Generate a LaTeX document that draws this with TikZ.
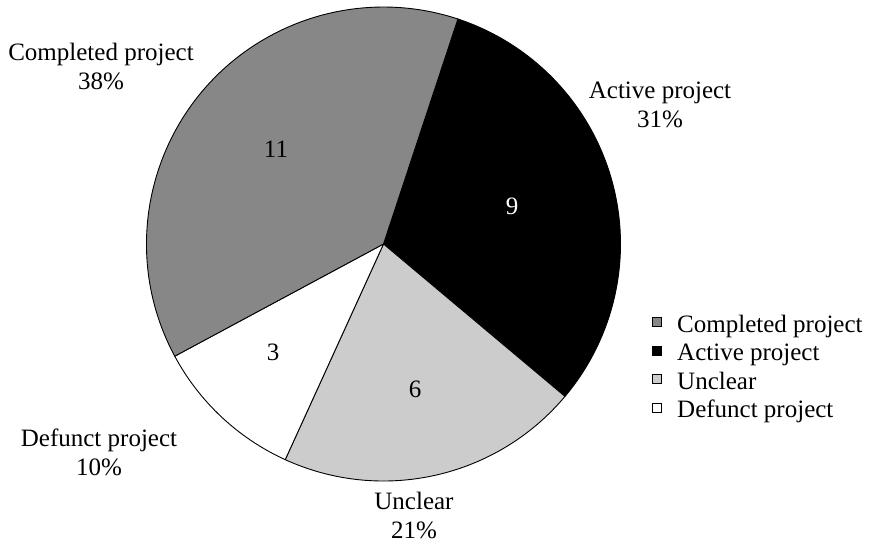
\documentclass[tikz,border=0pt]{standalone}
\usepackage{fontspec}
\setmainfont{Liberation Serif}
\usepackage{tikz}
\usetikzlibrary{positioning,calc}
\definecolor{midgray}{HTML}{878787}
\definecolor{palegray}{HTML}{CCCCCC}
\tikzstyle{slice} = [draw=black, line width=0.9pt, line join=round]
\tikzstyle{count} = [font=\fontsize{25}{29}\selectfont, inner sep=0pt]
\tikzstyle{outlabel} = [font=\fontsize{25}{29}\selectfont, inner sep=0pt, anchor=base]
\tikzstyle{legbox} = [rectangle, draw=black, line width=0.6pt, minimum size=9pt, inner sep=0pt]
\tikzstyle{legtext} = [font=\fontsize{25}{29}\selectfont, inner sep=0pt, anchor=base west]

\begin{document}
\begin{tikzpicture}[x=1pt,y=1pt]
	\useasboundingbox (0,0) rectangle (873,-547);
	\coordinate (c) at (383.5,-244);
	% slices, clockwise from the top
	\draw[slice, fill=black] (c) -- ++(71.7:237pt) arc[start angle=71.7, end angle=-40.02, radius=237pt] -- cycle;
	\draw[slice, fill=palegray] (c) -- ++(-40.02:237pt) arc[start angle=-40.02, end angle=-114.5, radius=237pt] -- cycle;
	\draw[slice, fill=white] (c) -- ++(-114.5:237pt) arc[start angle=-114.5, end angle=-151.74, radius=237pt] -- cycle;
	\draw[slice, fill=midgray] (c) -- ++(-151.74:237pt) arc[start angle=-151.74, end angle=-288.3, radius=237pt] -- cycle;
	% counts
	\node (n11) at (276,-149) [count] {11};
	\node (n9) at (512,-206) [count, text=white] {9};
	\node (n6) at (415,-389) [count] {6};
	\node (n3) at (273,-352) [count] {3};
	% labels round the pie
	\node (tcomp) at (101,-60) [outlabel] {Completed project};
	\node (pcomp) at (101,-89) [outlabel] {38\%};
	\node (tact) at (660,-98) [outlabel] {Active project};
	\node (pact) at (660,-127) [outlabel] {31\%};
	\node (tunc) at (414,-509) [outlabel] {Unclear};
	\node (punc) at (414,-538) [outlabel] {21\%};
	\node (tdef) at (99,-446) [outlabel] {Defunct project};
	\node (pdef) at (99,-475) [outlabel] {10\%};
	% legend
	\node (kcomp) at (657,-322) [legbox, fill=midgray] {};
	\node (kact) at (657,-350.5) [legbox, fill=black] {};
	\node (kunc) at (657,-379) [legbox, fill=palegray] {};
	\node (kdef) at (657,-407.5) [legbox, fill=white] {};
	\node (lcomp) at (677,-332) [legtext] {Completed project};
	\node (lact) at (677,-360.5) [legtext] {Active project};
	\node (lunc) at (677,-389) [legtext] {Unclear};
	\node (ldef) at (677,-417.5) [legtext] {Defunct project};
\end{tikzpicture}
\end{document}
